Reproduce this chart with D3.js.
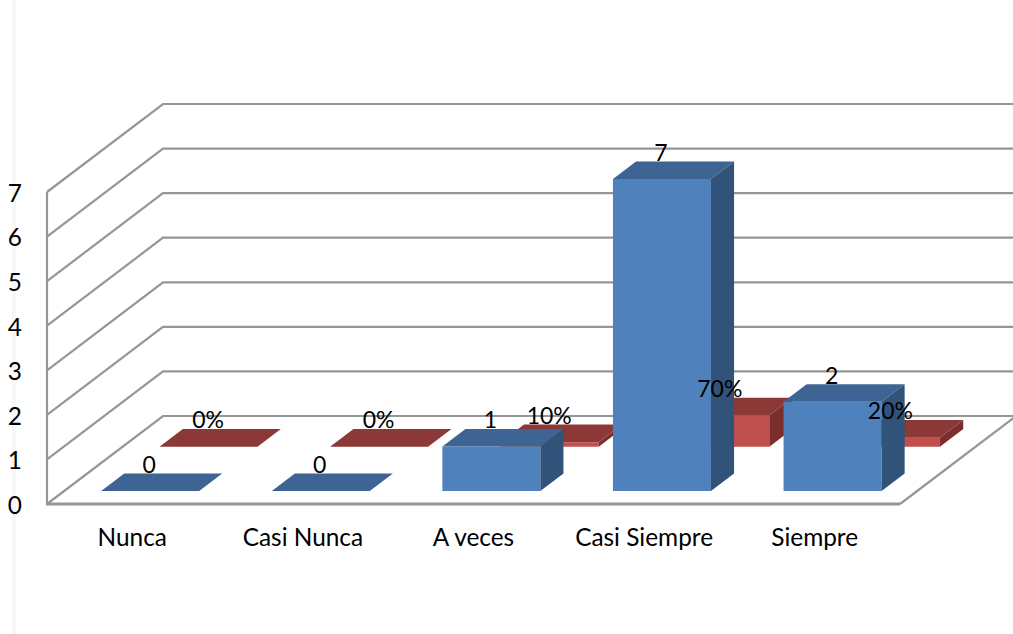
<!DOCTYPE html>
<html>
<head>
<meta charset="utf-8">
<style>
html,body{margin:0;padding:0;background:#fff;overflow:hidden}
text{font-family:Lato,"Open Sans",sans-serif;font-size:23px;fill:#000}
.ax text{font-size:24.4px}
</style>
<script src="https://cdn.jsdelivr.net/npm/d3@7"></script>
</head>
<body>
<svg id="c" width="1013" height="634"></svg>
<script>
const categories = ["Nunca","Casi Nunca","A veces","Casi Siempre","Siempre"];
const counts = [0,0,1,7,2];
const shares = [0,0,0.1,0.7,0.2];
const shareLabels = ["0%","0%","10%","70%","20%"];
const yTicks = [0,1,2,3,4,5,6,7];

const svg = d3.select("#c");
const x = d3.scaleBand().domain(categories).range([47,900]);
const y = d3.scaleLinear().domain([0,7]).range([504,192]);
// depth axis: 0 = front of the floor, 1 = back wall
const dX = d3.scaleLinear().domain([0,1]).range([0,116]);
const dY = d3.scaleLinear().domain([0,1]).range([0,-88]);
const project = (px,v,d)=>[px+dX(d), y(v)+dY(d)];
const poly = pts=>pts.map(p=>p.join(",")).join(" ");

const GRID="#969696";
svg.append("rect").attr("x",12).attr("y",0).attr("width",4).attr("height",634).attr("fill","#f7f7f7");

const grid = svg.append("g").attr("fill","none").attr("stroke",GRID).attr("stroke-width",2.2);
yTicks.forEach(v=>{
  const a=[x.range()[0],y(v)], b=project(x.range()[0],v,1), c=[1013,b[1]];
  grid.append("polyline").attr("points",poly([a,b,c]));
});
grid.append("line").attr("x1",47).attr("x2",47).attr("y1",y(0)).attr("y2",y(7));
grid.append("line").attr("x1",46).attr("x2",900).attr("y1",y(0)).attr("y2",y(0)).attr("stroke-width",3);
const fr=[x.range()[1],y(0)], br=project(x.range()[1],0,1);
grid.append("line").attr("x1",fr[0]).attr("y1",fr[1]).attr("x2",br[0]).attr("y2",br[1]);

// one 3D bar
function bar(g,cat,v,offset,d0,d1,w,cols){
  const l=x(cat)+offset, r=l+w;
  const A=project(l,0,d0), B=project(r,0,d0), C=project(r,v,d0), D=project(l,v,d0);
  const E=project(l,v,d1), F=project(r,v,d1), G=project(r,0,d1);
  if(v>0){
    g.append("polygon").attr("points",poly([A,B,C,D])).attr("fill",cols.front);
    g.append("polygon").attr("points",poly([B,G,F,C])).attr("fill",cols.side);
  }
  g.append("polygon").attr("points",poly([D,C,F,E])).attr("fill",cols.top);
}
const W=98, OFFSET=37;
const red={front:"#C0504D",top:"#8C3836",side:"#7A2F2D"};
const blue={front:"#4F81BD",top:"#3D6493",side:"#315279"};
const gr=svg.append("g"), gb=svg.append("g");
categories.forEach((c,i)=>bar(gr,c,shares[i],OFFSET,0.651,0.852,W,red));
categories.forEach((c,i)=>bar(gb,c,counts[i],OFFSET,0.148,0.347,W,blue));

// value labels
const labels=svg.append("g").attr("text-anchor","middle").attr("dominant-baseline","central");
categories.forEach((c,i)=>{
  const pb=project(x(c),counts[i],0.347);
  labels.append("text").attr("x",x(c)+OFFSET+dX(0.148)+W/2-1).attr("y",pb[1]-9.5).text(counts[i]);
  const pr=project(x(c),shares[i],0.852);
  labels.append("text").attr("x",x(c)+OFFSET+dX(0.651)+W/2-0.5).attr("y",pr[1]-10).text(shareLabels[i]);
});

// axes
const yAxis=d3.axisLeft(y).tickValues(yTicks).tickSize(0).tickPadding(25).tickFormat(d3.format("d"));
const ya=svg.append("g").attr("class","ax").attr("transform","translate(47,1.5)").call(yAxis);
const xAxis=d3.axisBottom(x).tickSize(0).tickPadding(25);
const xa=svg.append("g").attr("class","ax").attr("transform",`translate(0,${y(0)})`).call(xAxis);
[ya,xa].forEach(a=>{a.select(".domain").remove();a.attr("font-family",null).attr("font-size",null);});
</script>
</body>
</html>
